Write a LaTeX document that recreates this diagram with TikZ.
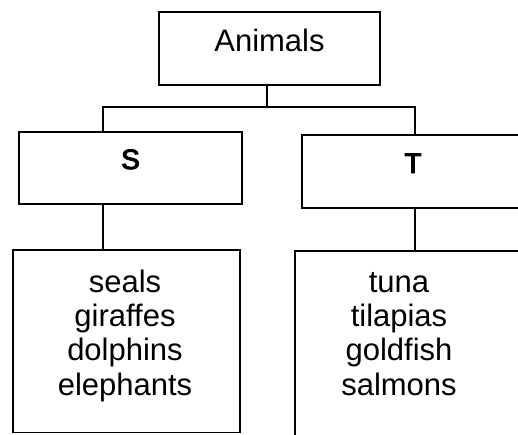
\documentclass[tikz,border=0pt]{standalone}
\usepackage{fontspec}
\setmainfont{Liberation Sans}
\newfontfamily\catfont{Liberation Sans}[FakeBold=3.5]
\newcommand\cattxt[1]{{\catfont\fontsize{28}{30}\selectfont #1}}
\tikzset{
  box/.style={draw, line width=1.8pt, inner sep=0pt, outer sep=0pt, align=center},
  headtext/.style={font=\fontsize{31}{34}\selectfont},
  itemtext/.style={anchor=base, inner sep=0pt, font=\fontsize{31}{34}\selectfont},
  conn/.style={line width=1.8pt}
}
\begin{document}
\begin{tikzpicture}[x=1pt, y=-1pt]
\useasboundingbox (0,0) rectangle (518,434);
\clip (0,0) rectangle (518,434);
% top box
\node[box, headtext, anchor=base, text width=221pt, text height=39pt, text depth=34pt] (A) at (269.5,51) {Animals};
% category boxes
\node[box, anchor=base, text width=223pt, text height=37pt, text depth=35pt] (S) at (130.5,169) {\cattxt{S}};
\node[box, anchor=base, text width=222pt, text height=38pt, text depth=35pt] (T) at (413,173) {\cattxt{T}};
% list boxes
\node[box, minimum width=227pt, minimum height=182.5pt] (SL) at (126.5,341.25) {};
\node[box, minimum width=235pt, minimum height=189pt] (TL) at (412.5,345.5) {};
% list items
\node[itemtext] (s1) at (125,292) {seals};
\node[itemtext] (s2) at (125,326.3) {giraffes};
\node[itemtext] (s3) at (125,360.6) {dolphins};
\node[itemtext] (s4) at (125,395) {elephants};
\node[itemtext] (t1) at (399,292) {tuna};
\node[itemtext] (t2) at (399,326.3) {tilapias};
\node[itemtext] (t3) at (399,360.6) {goldfish};
\node[itemtext] (t4) at (399,395) {salmons};
% connectors
\coordinate (j) at (267,107);
\coordinate (jl) at (103,107);
\coordinate (jr) at (415,107);
\draw[conn] (A.south -| j) -- (j);
\draw[conn] (S.north -| jl) -- (jl) -- (jr) -- (T.north -| jr);
\draw[conn] (S.south -| jl) -- (SL.north -| jl);
\draw[conn] (T.south -| jr) -- (TL.north -| jr);
\end{tikzpicture}
\end{document}
